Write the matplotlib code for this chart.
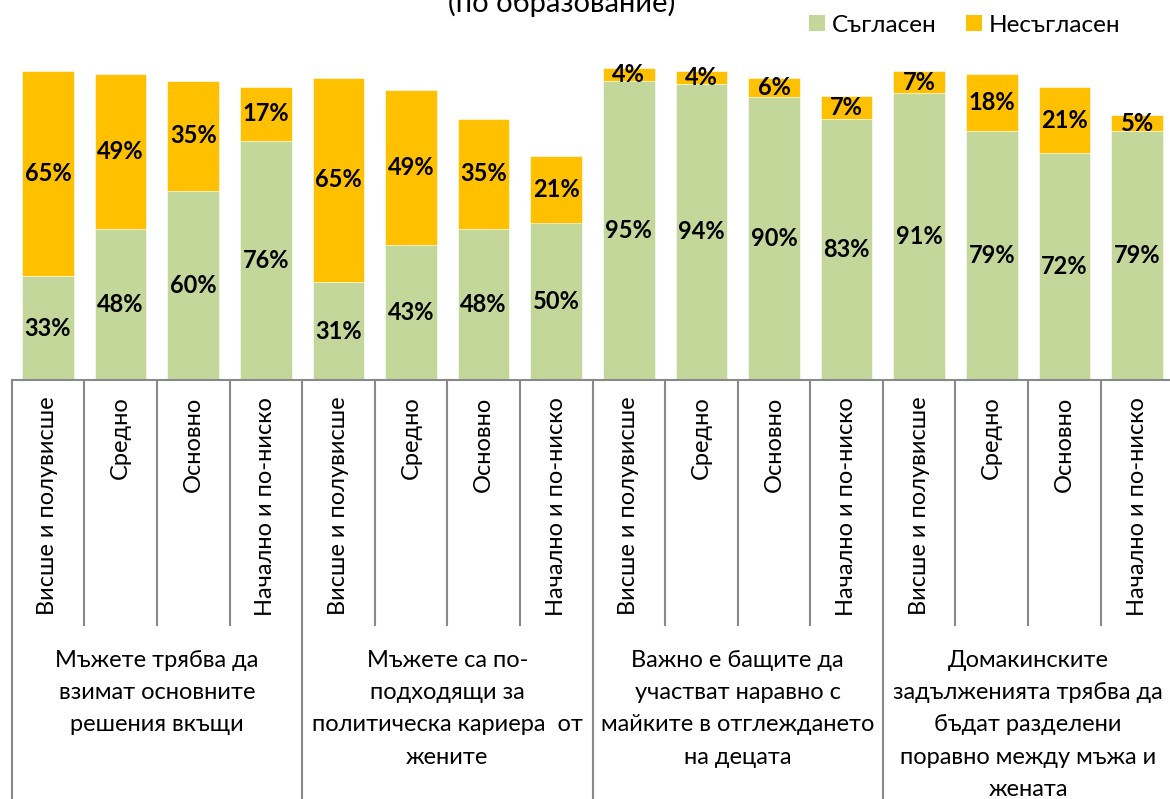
import matplotlib
matplotlib.use("Agg")
import matplotlib.pyplot as plt
from matplotlib.patches import Patch
import numpy as np

plt.rcParams['font.family'] = ['Lato', 'DejaVu Sans']

# ---- data ----
levels = ["Висше и полувисше", "Средно", "Основно", "Начално и по-ниско"]
groups = [
    "Мъжете трябва да\nвзимат основните\nрешения вкъщи",
    "Мъжете са по-\nподходящи за\nполитическа кариера  от\nжените",
    "Важно е бащите да\nучастват наравно с\nмайките в отглеждането\nна децата",
    "Домакинските\nзадълженията трябва да\nбъдат разделени\nпоравно между мъжа и\nжената",
]
agree = [33, 48, 60, 76, 31, 43, 48, 50, 95, 94, 90, 83, 91, 79, 72, 79]
disagree = [65, 49, 35, 17, 65, 49, 35, 21, 4, 4, 6, 7, 7, 18, 21, 5]
series_names = ["Съгласен", "Несъгласен"]
title = "(по образование)"

GREEN = "#C4D79B"
ORANGE = "#FFC000"
GRID = "#898989"

W, H = 1170, 799
fig = plt.figure(figsize=(W / 100, H / 100), dpi=100)
ax = fig.add_axes([11.7 / W, (H - 380) / H, 1161.6 / W, 315 / H])

n = len(agree)
x = np.arange(n)
tick_labels = levels * len(groups)

b1 = ax.bar(x, agree, width=0.71, color=GREEN, edgecolor="white", linewidth=0.4)
b2 = ax.bar(x, disagree, width=0.71, bottom=agree, color=ORANGE, edgecolor="white", linewidth=0.4)
ax.bar_label(b1, labels=[f"{v}%" for v in agree], label_type="center",
             fontsize=17, fontweight="bold", color="black")
ax.bar_label(b2, labels=[f"{v}%" for v in disagree], label_type="center",
             fontsize=17, fontweight="bold", color="black")

ax.set_xlim(-0.5, n - 0.5)
ax.set_ylim(0, 100)
ax.set_yticks([])
for s in ["left", "right", "top"]:
    ax.spines[s].set_visible(False)
ax.spines["bottom"].set_color(GRID)
ax.spines["bottom"].set_linewidth(1.5)

ax.set_xticks(x)
ax.set_xticklabels(tick_labels, rotation=90, fontsize=17, va="top", ha="center")
ax.tick_params(axis="x", length=0, pad=12)

# separators of the category table
trans = ax.get_xaxis_transform()
inner_bottom = (380 - 625) / 315
outer_bottom = (380 - 820) / 315
for i in range(n + 1):
    xe = i - 0.5
    yb = outer_bottom if i % 4 == 0 else inner_bottom
    ax.plot([xe, xe], [0, yb], color=GRID, lw=1.5, transform=trans, clip_on=False)

# group labels
for g, lab in enumerate(groups):
    cx = g * 4 + 1.5
    ax.text(cx, (380 - 650) / 315, lab, transform=trans, ha="center", va="top",
            fontsize=17, linespacing=1.66, clip_on=False)

# legend
handles = [Patch(facecolor=GREEN, label=series_names[0]),
           Patch(facecolor=ORANGE, label=series_names[1])]
fig.legend(handles=handles, loc="center", bbox_to_anchor=(965 / W, 1 - 25 / H),
           ncol=2, frameon=False, fontsize=17.5, handlelength=0.65, handleheight=0.65,
           handletextpad=0.3, columnspacing=1.2, borderpad=0.1)

fig.text(562 / W, 1 - 12 / H, title, ha="center", va="baseline", fontsize=21)

fig.savefig("out.png", dpi=100)
